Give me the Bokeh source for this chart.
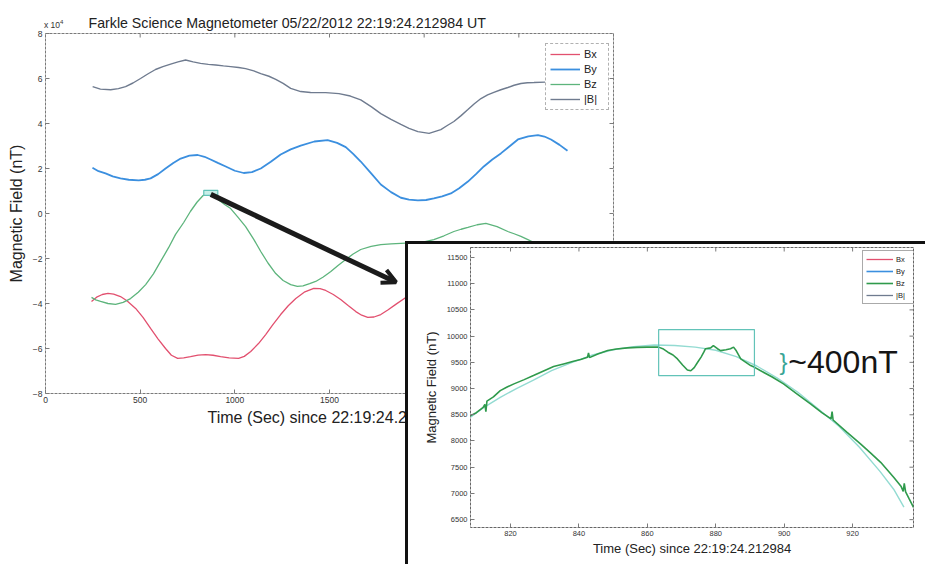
from bokeh.plotting import figure
from bokeh.models import (FixedTicker, Range1d, Legend, LegendItem, Arrow, OpenHead,
                          Label, GridBox, Column, Div)
from bokeh.embed import file_html
from bokeh.resources import INLINE

FONT = "Liberation Sans"
NAN = float("nan")

# ---------------- full pass (values in units of 1e4 nT) ----------------
t_bx = [243, 270, 300, 330, 360, 396, 430, 476, 515, 555, 595, 634, 665, 698, 730, 766,
        806, 846, 885, 925, 970, 1020, 1050, 1084, 1125, 1163, 1200, 1242, 1282, 1322,
        1370, 1417, 1450, 1480, 1520, 1559, 1600, 1639, 1670, 1702, 1735, 1771, 1810,
        1850, 1903, 1960]
bx = [-3.91, -3.72, -3.60, -3.55, -3.58, -3.69, -3.88, -4.22, -4.62, -5.11, -5.58, -6.00,
      -6.30, -6.44, -6.42, -6.36, -6.29, -6.27, -6.30, -6.36, -6.42, -6.44, -6.35, -6.13,
      -5.78, -5.38, -4.95, -4.49, -4.10, -3.78, -3.48, -3.33, -3.34, -3.42, -3.60, -3.82,
      -4.10, -4.36, -4.52, -4.62, -4.60, -4.49, -4.28, -4.04, -3.73, -3.50]

t_by = [248, 280, 317, 355, 396, 440, 492, 525, 555, 595, 634, 675, 714, 760, 804, 840,
        872, 910, 952, 1000, 1047, 1090, 1137, 1190, 1242, 1295, 1348, 1420, 1490, 1540,
        1586, 1625, 1665, 1720, 1771, 1825, 1877, 1920, 1967, 2010, 2051, 2095, 2141,
        2185, 2231, 2275, 2315, 2360, 2405, 2450, 2495, 2550, 2601, 2635, 2670, 2715, 2757]
by = [2.03, 1.88, 1.78, 1.65, 1.56, 1.50, 1.47, 1.50, 1.56, 1.75, 2.00, 2.24, 2.44, 2.57,
      2.60, 2.52, 2.40, 2.25, 2.09, 1.90, 1.80, 1.84, 2.00, 2.30, 2.62, 2.85, 3.02, 3.20,
      3.26, 3.14, 2.95, 2.65, 2.31, 1.78, 1.29, 0.95, 0.70, 0.62, 0.58, 0.60, 0.67, 0.76,
      0.89, 1.12, 1.42, 1.76, 2.09, 2.40, 2.67, 2.98, 3.29, 3.43, 3.48, 3.42, 3.29, 3.05, 2.79]

t_bz = [243, 265, 291, 330, 370, 410, 449, 490, 529, 570, 608, 650, 687, 730, 766, 800,
        830, 862, 895, 925, 950, 978, 1015, 1057, 1100, 1137, 1175, 1216, 1255, 1295,
        1330, 1360, 1395, 1427, 1467, 1507, 1545, 1586, 1625, 1665, 1720, 1771, 1825,
        1877, 1930, 1982, 2051, 2105, 2157, 2195, 2231, 2280, 2326, 2385, 2442, 2475,
        2511, 2545, 2580, 2643, 2700]
bz = [-3.73, -3.84, -3.91, -4.00, -4.04, -3.95, -3.78, -3.50, -3.16, -2.68, -2.13, -1.52,
      -0.93, -0.40, 0.10, 0.50, 0.78, 0.92, 0.75, 0.53, 0.38, 0.22, -0.15, -0.58, -1.15,
      -1.69, -2.20, -2.67, -2.98, -3.16, -3.24, -3.22, -3.12, -3.02, -2.82, -2.58, -2.31,
      -2.04, -1.80, -1.60, -1.46, -1.38, -1.35, -1.33, -1.31, -1.29, -1.16, -0.99, -0.80,
      -0.70, -0.62, -0.50, -0.44, -0.58, -0.80, -0.90, -1.02, -1.15, -1.29, -1.60, -1.90]

t_bm = [249, 290, 344, 385, 423, 462, 502, 540, 581, 620, 661, 700, 740, 780, 819, 860,
        899, 940, 978, 1020, 1057, 1100, 1137, 1180, 1216, 1255, 1295, 1348, 1400, 1480,
        1550, 1610, 1665, 1720, 1771, 1825, 1877, 1920, 1967, 2026, 2088, 2120, 2157,
        2195, 2231, 2265, 2300, 2335, 2368, 2405, 2442, 2475, 2511, 2545, 2580, 2640]
bm = [5.64, 5.53, 5.50, 5.55, 5.64, 5.80, 6.00, 6.20, 6.40, 6.53, 6.64, 6.74, 6.82, 6.74,
      6.67, 6.63, 6.60, 6.56, 6.53, 6.49, 6.44, 6.34, 6.22, 6.10, 5.96, 5.78, 5.56, 5.42,
      5.38, 5.37, 5.33, 5.22, 5.05, 4.75, 4.44, 4.18, 3.96, 3.78, 3.64, 3.56, 3.73, 3.90,
      4.09, 4.35, 4.62, 4.88, 5.11, 5.27, 5.38, 5.50, 5.60, 5.70, 5.78, 5.81, 5.82, 5.84]

x_ticks = [0, 500, 1000, 1500, 2000, 2500, 3000]
y_ticks = [-8, -6, -4, -2, 0, 2, 4, 6, 8]
x_lim = (0, 3000)
y_lim = (-8, 8)

# zoom window marked on the full pass (Bz peak)
zoom_t = (836, 910)
zoom_v = (0.81, 1.03)

# ---------------- zoomed Bz around the peak (nT) ----------------
t_zoom = [808.3, 810, 812, 812.5, 812.8, 813.1, 815, 817, 819, 821, 824, 826.7, 829.5,
          832.6, 835.5, 838.4, 840.5, 842.5, 842.8, 843.1, 845.5, 848.4, 851, 854.2, 857,
          860, 863.3, 864.5, 866, 867.5, 868.8, 870.3, 871.7, 872.7, 873.7, 874.7, 875.7,
          876.5, 877, 878.5, 879.3, 880.5, 881.4, 883, 884.3, 885.2, 886, 887.3, 888.8,
          890.2, 891.5, 893, 896.5, 899.8, 903.7, 907.7, 911, 913.7, 914.0, 914.3, 918.3,
          922.3, 925.3, 928.2, 930.1, 932, 934.2, 934.8, 935.1, 935.5, 936.5, 937.8]
bz_zoom = [8484, 8540, 8640, 8700, 8560, 8760, 8840, 8961, 9030, 9089, 9170, 9247, 9330,
           9419, 9470, 9520, 9555, 9597, 9680, 9590, 9660, 9724, 9755, 9776, 9785, 9790,
           9790, 9760, 9693, 9640, 9565, 9450, 9355, 9340, 9400, 9502, 9600, 9693, 9760,
           9776, 9820, 9760, 9724, 9740, 9760, 9790, 9720, 9565, 9500, 9438, 9400, 9343,
           9220, 9089, 8900, 8707, 8540, 8420, 8560, 8400, 8170, 7944, 7770, 7593, 7450,
           7307, 7130, 7040, 7190, 7030, 6900, 6734]

t_fit = [808.3, 812, 817, 822, 826.7, 832, 838, 844, 850, 856, 862, 868, 874, 880, 886,
         892, 898, 904, 910, 916, 922, 928, 932, 935]
bz_fit = [8452, 8630, 8833, 9010, 9160, 9340, 9500, 9640, 9740, 9800, 9830, 9820, 9790,
          9730, 9610, 9430, 9200, 8930, 8610, 8280, 7880, 7420, 7080, 6740]

zx_ticks = [820, 840, 860, 880, 900, 920]
zy_ticks = [6500, 7000, 7500, 8000, 8500, 9000, 9500, 10000, 10500, 11000, 11500]
zx_lim = (808.3, 937.8)
zy_lim = (6350, 11690)

# disturbance window and its size
dist_t = (863.3, 891.3)
dist_v = (9247, 10125)
dist_text = "~400nT"

C_BX = "#e2506f"
C_BY = "#3b8fdf"
C_BZ = "#5db47c"
C_BM = "#6f7b8f"
C_BZ_ZOOM = "#2f9a4c"
C_FIT = "#93dbd2"
C_BOX = "#62c3b8"
AX = "#7a7a7a"
TICK_PX = 4


def style_axis(ax, size):
    ax.major_tick_in = TICK_PX
    ax.major_tick_out = 0
    ax.minor_tick_line_color = None
    ax.axis_line_color = None
    ax.major_tick_line_color = AX
    ax.major_label_text_font = FONT
    ax.major_label_text_font_size = size
    ax.major_label_text_color = "#333333"
    ax.major_label_standoff = 3
    ax.axis_label_text_font = FONT
    ax.axis_label_text_font_style = "normal"
    ax.axis_label_text_color = "#222222"


def mirror_ticks(fig, xt, yt, xlim, ylim, frame_w, frame_h):
    # short inward ticks along the top and right edges of the box
    dy = (ylim[1] - ylim[0]) * TICK_PX / frame_h
    dx = (xlim[1] - xlim[0]) * TICK_PX / frame_w
    fig.segment(x0=xt, y0=[ylim[1]] * len(xt), x1=xt, y1=[ylim[1] - dy] * len(xt),
                line_color=AX, line_width=1)
    fig.segment(x0=[xlim[1]] * len(yt), y0=yt, x1=[xlim[1] - dx] * len(yt), y1=yt,
                line_color=AX, line_width=1)


def style_legend(lg, size, gw, gh, sp, pad):
    lg.label_text_font = FONT
    lg.label_text_font_size = size
    lg.label_text_color = "#222222"
    lg.glyph_width = gw
    lg.glyph_height = gh
    lg.label_height = gh
    lg.label_standoff = 4
    lg.spacing = sp
    lg.padding = pad
    lg.margin = 0
    lg.background_fill_color = "white"


# ---------------- main figure ----------------
MAIN_W, MAIN_H = 925, 564
M_L, M_R, M_T, M_B = 45, 312, 33, 171
main = figure(width=MAIN_W, height=MAIN_H, x_range=Range1d(*x_lim), y_range=Range1d(*y_lim),
              output_backend="svg", toolbar_location=None,
              min_border_left=M_L, min_border_right=M_R, min_border_top=M_T,
              min_border_bottom=M_B)
main.grid.visible = False
main.outline_line_color = AX
main.outline_line_dash = "3 1"
main.background_fill_color = "white"
main.border_fill_color = "white"

main.title.text = "Farkle Science Magnetometer 05/22/2012 22:19:24.212984 UT"
main.title.text_font = FONT
main.title.text_font_size = "14.2px"
main.title.text_font_style = "normal"
main.title.text_color = "#222222"
main.title.align = "left"
main.title.offset = 43
main.title.standoff = 6

main.xaxis.ticker = FixedTicker(ticks=x_ticks)
main.yaxis.ticker = FixedTicker(ticks=y_ticks)
style_axis(main.xaxis[0], "8.5px")
style_axis(main.yaxis[0], "8.5px")
main.xaxis.axis_label = "Time (Sec) since 22:19:24.212984"
main.yaxis.axis_label = "Magnetic Field (nT)"
main.xaxis.axis_label_text_font_size = "16px"
main.yaxis.axis_label_text_font_size = "16px"
main.xaxis.axis_label_standoff = 3
main.yaxis.axis_label_standoff = 5
mirror_ticks(main, x_ticks, y_ticks, x_lim, y_lim,
             MAIN_W - M_L - M_R, MAIN_H - M_T - M_B)

r_bx = main.line(t_bx, bx, line_color=C_BX, line_width=1.3)
r_by = main.line(t_by, by, line_color=C_BY, line_width=1.8)
r_bz = main.line(t_bz, bz, line_color=C_BZ, line_width=1.3)
r_bm = main.line(t_bm, bm, line_color=C_BM, line_width=1.4)

main.quad(left=[zoom_t[0]], right=[zoom_t[1]], bottom=[zoom_v[0]], top=[zoom_v[1]],
          fill_color="#c9efe8", line_color=C_BOX, line_width=1.2)

main.add_layout(Arrow(end=OpenHead(size=14, line_width=4, line_color="#1b1b1b"),
                      x_start=873, y_start=0.85, x_end=1852, y_end=-3.06,
                      line_width=5, line_color="#1b1b1b"))

leg = Legend(items=[LegendItem(label="Bx", renderers=[r_bx]),
                    LegendItem(label="By", renderers=[r_by]),
                    LegendItem(label="Bz", renderers=[r_bz]),
                    LegendItem(label="|B|", renderers=[r_bm])],
             location=(500, 283))
style_legend(leg, "11px", 30, 12, 3, 4)
leg.border_line_color = "#666666"
leg.border_line_dash = "2 1"
main.add_layout(leg)

# exponent note for the y axis
exp_note = Div(text="x 10<sup style='font-size:6px'>4</sup>", width=30, height=12,
               styles={"font-family": FONT, "font-size": "8.5px", "color": "#333333",
                       "line-height": "10px", "margin": "0", "padding": "0"})

# ---------------- zoomed figure ----------------
IN_W, IN_H = 517, 320
I_L, I_R, I_T, I_B = 62, 12, 3, 37
inset = figure(width=IN_W, height=IN_H, x_range=Range1d(*zx_lim), y_range=Range1d(*zy_lim),
               output_backend="svg", toolbar_location=None,
               min_border_left=I_L, min_border_right=I_R, min_border_top=I_T,
               min_border_bottom=I_B)
inset.grid.visible = False
inset.outline_line_color = "#666666"
inset.outline_line_dash = "3 1"
inset.background_fill_color = "white"
inset.border_fill_color = "white"

inset.xaxis.ticker = FixedTicker(ticks=zx_ticks)
inset.yaxis.ticker = FixedTicker(ticks=zy_ticks)
style_axis(inset.xaxis[0], "7.5px")
style_axis(inset.yaxis[0], "7.5px")
inset.xaxis.axis_label = "Time (Sec) since 22:19:24.212984"
inset.yaxis.axis_label = "Magnetic Field (nT)"
inset.xaxis.axis_label_text_font_size = "13px"
inset.yaxis.axis_label_text_font_size = "13px"
inset.xaxis.axis_label_standoff = 2
inset.yaxis.axis_label_standoff = 5
mirror_ticks(inset, zx_ticks, zy_ticks, zx_lim, zy_lim,
             IN_W - I_L - I_R, IN_H - I_T - I_B)

# Bx, By and |B| are listed in the key but have no samples in this window
i_bx = inset.line([NAN], [NAN], line_color=C_BX, line_width=1.3)
i_by = inset.line([NAN], [NAN], line_color=C_BY, line_width=1.6)
inset.line(t_fit, bz_fit, line_color=C_FIT, line_width=1.4)
i_bz = inset.line(t_zoom, bz_zoom, line_color=C_BZ_ZOOM, line_width=1.6)
i_bm = inset.line([NAN], [NAN], line_color=C_BM, line_width=1.3)

inset.quad(left=[dist_t[0]], right=[dist_t[1]], bottom=[dist_v[0]], top=[dist_v[1]],
           fill_alpha=0, line_color=C_BOX, line_width=1.2)

inset.add_layout(Label(x=898.6, y=9514, text="}", text_font=FONT, text_font_size="24px",
                       text_color="#3aa596", text_baseline="middle"))
inset.add_layout(Label(x=901.2, y=9514, text=dist_text, text_font=FONT,
                       text_font_size="32px", text_color="#151515",
                       text_baseline="middle"))

ileg = Legend(items=[LegendItem(label="Bx", renderers=[i_bx]),
                     LegendItem(label="By", renderers=[i_by]),
                     LegendItem(label="Bz", renderers=[i_bz]),
                     LegendItem(label="|B|", renderers=[i_bm])],
              location=(392, 223))
style_legend(ileg, "7.5px", 27, 10, 2, 3)
ileg.label_standoff = 3
ileg.border_line_color = "#555555"
inset.add_layout(ileg)

# heavy frame on the left and top of the zoomed panel
inset_box = Column(children=[inset],
                   styles={"border-left": "3px solid #111111",
                           "border-top": "3px solid #111111",
                           "background-color": "white"})
main_box = Column(children=[main])

layout = GridBox(children=[(main_box, 0, 0, 3, 3), (exp_note, 1, 1, 1, 1),
                           (inset_box, 2, 2, 1, 1)],
                 rows=["17px", "224px", "323px"], cols=["44px", "361px", "520px"])

open("out.html", "w").write(file_html(layout, INLINE))
